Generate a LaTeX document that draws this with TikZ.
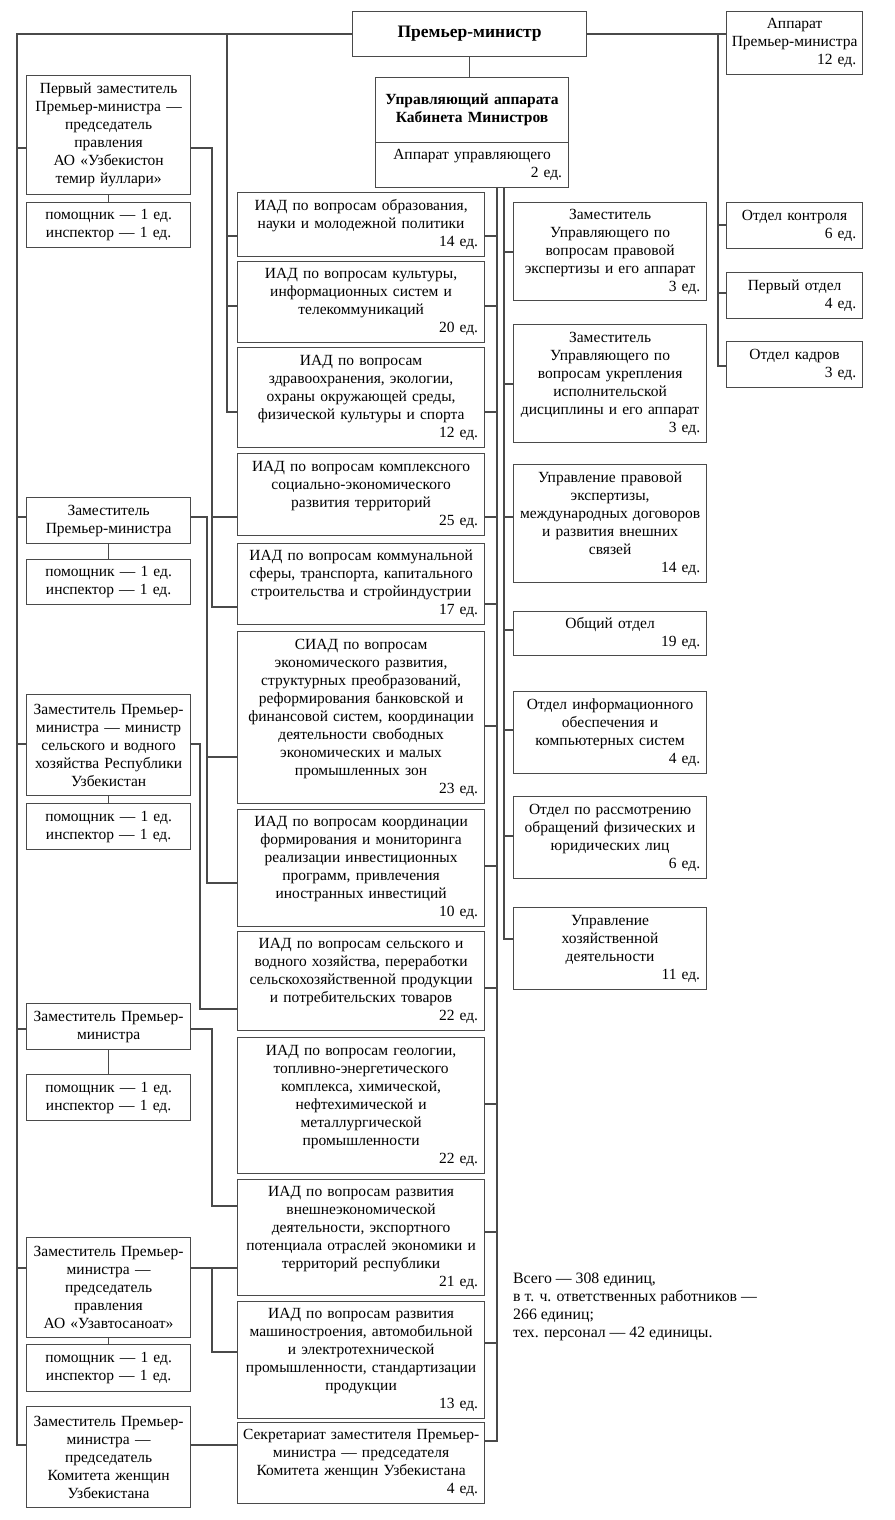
\documentclass[tikz,border=0pt]{standalone}
\usepackage{fontspec}
\setmainfont{Liberation Serif}
\definecolor{lc}{HTML}{4A4A4A}
\newcommand\ed[1]{\\\makebox[\dimexpr\hsize-1pt\relax][r]{#1~ед.\kern3pt}}
\newcommand\obx[6]{\pgfmathsetmacro\tw{#4-6}\node[box, minimum width=#4pt, minimum height=#5pt, text width=\tw pt] (#1) at (#2,#3) {#6};}
\begin{document}
\begin{tikzpicture}[x=1pt,y=-1pt,
  every node/.style={font=\fontsize{15.5}{18}\selectfont},
  box/.style={draw=lc, line width=1.2pt, inner xsep=3pt, inner ysep=2pt, align=center, anchor=north west},
  ln/.style={draw=lc, line width=1.2pt}]
\useasboundingbox (0,0) rectangle (894,1520);

% top
\obx{pm}{352}{11}{234}{45}{\fontsize{17.5}{20}\selectfont\bfseries Премьер-министр}
\obx{upr}{375}{77}{193}{65}{\bfseries Управляющий аппарата\\Кабинета Министров}
\obx{uprap}{375}{142}{193}{45}{Аппарат управляющего\ed{2}}
\obx{apm}{726}{11}{136}{63}{Аппарат\\Премьер-министра\ed{12}}

% far right
\obx{ok}{726}{202}{136}{46}{Отдел контроля\ed{6}}
\obx{po}{726}{272}{136}{46}{Первый отдел\ed{4}}
\obx{kadr}{726}{341}{136}{46}{Отдел кадров\ed{3}}

% right column
\obx{zp}{513}{202}{193}{98}{Заместитель\\Управляющего по\\вопросам правовой\\экспертизы и его аппарат\ed{3}}
\obx{zu}{513}{324}{193}{118}{Заместитель\\Управляющего по\\вопросам укрепления\\исполнительской\\дисциплины и его аппарат\ed{3}}
\obx{upp}{513}{464}{193}{118}{Управление правовой\\экспертизы,\\международных договоров\\и развития внешних\\связей\ed{14}}
\obx{obsh}{513}{611}{193}{44}{Общий отдел\ed{19}}
\obx{inf}{513}{691}{193}{82}{Отдел информационного\\обеспечения и\\компьютерных систем\ed{4}}
\obx{rass}{513}{796}{193}{82}{Отдел по рассмотрению\\обращений физических и\\юридических лиц\ed{6}}
\obx{hoz}{513}{907}{193}{82}{Управление\\хозяйственной\\деятельности\ed{11}}

% middle column
\obx{iad1}{237}{192}{247}{64}{ИАД по вопросам образования,\\науки и молодежной политики\ed{14}}
\obx{iad2}{237}{261}{247}{81}{ИАД по вопросам культуры,\\информационных систем и\\телекоммуникаций\ed{20}}
\obx{iad3}{237}{347}{247}{100}{ИАД по вопросам\\здравоохранения, экологии,\\охраны окружающей среды,\\физической культуры и спорта\ed{12}}
\obx{iad4}{237}{453}{247}{82}{ИАД по вопросам комплексного\\социально-экономического\\развития территорий\ed{25}}
\obx{iad5}{237}{543}{247}{81}{ИАД по вопросам коммунальной\\сферы, транспорта, капитального\\строительства и стройиндустрии\ed{17}}
\obx{siad}{237}{631}{247}{172}{СИАД по вопросам\\экономического развития,\\структурных преобразований,\\реформирования банковской и\\финансовой систем, координации\\деятельности свободных\\экономических и малых\\промышленных зон\ed{23}}
\obx{iad7}{237}{809}{247}{117}{ИАД по вопросам координации\\формирования и мониторинга\\реализации инвестиционных\\программ, привлечения\\иностранных инвестиций\ed{10}}
\obx{iad8}{237}{931}{247}{99}{ИАД по вопросам сельского и\\водного хозяйства, переработки\\сельскохозяйственной продукции\\и потребительских товаров\ed{22}}
\obx{iad9}{237}{1037}{247}{136}{ИАД по вопросам геологии,\\топливно-энергетического\\комплекса, химической,\\нефтехимической и\\металлургической\\промышленности\ed{22}}
\obx{iad10}{237}{1179}{247}{116}{ИАД по вопросам развития\\внешнеэкономической\\деятельности, экспортного\\потенциала отраслей экономики и\\территорий республики\ed{21}}
\obx{iad11}{237}{1301}{247}{117}{ИАД по вопросам развития\\машиностроения, автомобильной\\и электротехнической\\промышленности, стандартизации\\продукции\ed{13}}
\obx{sekr}{237}{1422}{247}{81}{Секретариат заместителя Премьер-\\министра — председателя\\Комитета женщин Узбекистана\ed{4}}

% left column
\obx{d1}{26}{75}{164}{119}{Первый заместитель\\Премьер-министра —\\председатель\\правления\\АО «Узбекистон\\темир йуллари»}
\obx{p1}{26}{202}{164}{45}{помощник — 1 ед.\\инспектор — 1 ед.}
\obx{d2}{26}{497}{164}{46}{Заместитель\\Премьер-министра}
\obx{p2}{26}{559}{164}{45}{помощник — 1 ед.\\инспектор — 1 ед.}
\obx{d3}{26}{694}{164}{101}{Заместитель Премьер-\\министра — министр\\сельского и водного\\хозяйства Республики\\Узбекистан}
\obx{p3}{26}{803}{164}{46}{помощник — 1 ед.\\инспектор — 1 ед.}
\obx{d4}{26}{1003}{164}{46}{Заместитель Премьер-\\министра}
\obx{p4}{26}{1074}{164}{46}{помощник — 1 ед.\\инспектор — 1 ед.}
\obx{d5}{26}{1237}{164}{100}{Заместитель Премьер-\\министра —\\председатель\\правления\\АО «Узавтосаноат»}
\obx{p5}{26}{1344}{164}{47}{помощник — 1 ед.\\инспектор — 1 ед.}
\obx{d6}{26}{1406}{164}{101}{Заместитель Премьер-\\министра —\\председатель\\Комитета женщин\\Узбекистана}

\node[anchor=north west, inner sep=0pt, align=left, font=\fontsize{15.8}{18}\selectfont] (tot) at (513,1273) {Всего — 308 единиц,\\в т. ч. ответственных работников —\\266 единиц;\\тех. персонал — 42 единицы.};

% connectors
\draw[ln] (pm.west) -| (17,1445) -- (d6.west|-0,1445);
\foreach \n/\y in {d1/148,d2/517,d3/744,d4/1029,d5/1268}
  \draw[ln] (17,\y) -- (\n.west|-0,\y);
\draw[ln] (227,33.5) |- (iad3.west|-0,412);
\foreach \n/\y in {iad1/236,iad2/306}
  \draw[ln] (227,\y) -- (\n.west|-0,\y);
\draw[ln] (pm.east) -- (apm.west|-pm.east);
\draw[ln] (718,33.5) |- (kadr.west|-0,366);
\foreach \n/\y in {ok/225,po/293}
  \draw[ln] (718,\y) -- (\n.west|-0,\y);
\draw[ln] (pm.south) -- (pm.south|-upr.north);
\draw[ln] (uprap.south-|497,0) |- (sekr.east|-0,1441);
\foreach \n/\y in {iad1/236,iad2/306,iad3/412,iad4/517,iad5/604,siad/726,iad7/866,iad8/988,iad9/1104,iad10/1232,iad11/1343}
  \draw[ln] (497,\y) -- (\n.east|-0,\y);
\draw[ln] (uprap.south-|504,0) |- (hoz.west|-0,939);
\foreach \n/\y in {zp/252,zu/384,upp/517,obsh/630,inf/730,rass/836}
  \draw[ln] (504,\y) -- (\n.west|-0,\y);
\draw[ln] (d1.east|-0,148) -| (212,607) -- (iad5.west|-0,607);
\draw[ln] (212,517) -- (iad4.west|-0,517);
\draw[ln] (d2.east|-0,517) -| (207,883) -- (iad7.west|-0,883);
\draw[ln] (207,757) -- (siad.west|-0,757);
\draw[ln] (d3.east|-0,744) -| (200,1009) -- (iad8.west|-0,1009);
\draw[ln] (d4.east|-0,1029) -| (212,1206) -- (iad10.west|-0,1206);
\draw[ln] (d5.east|-0,1268) -- (iad10.west|-0,1268);
\draw[ln] (212,1268) |- (iad11.west|-0,1352);
\draw[ln] (d6.east|-0,1445) -- (sekr.west|-0,1445);
\foreach \i in {1,...,5}
  \draw[ln] (d\i.south) -- (p\i.north);
\end{tikzpicture}
\end{document}
